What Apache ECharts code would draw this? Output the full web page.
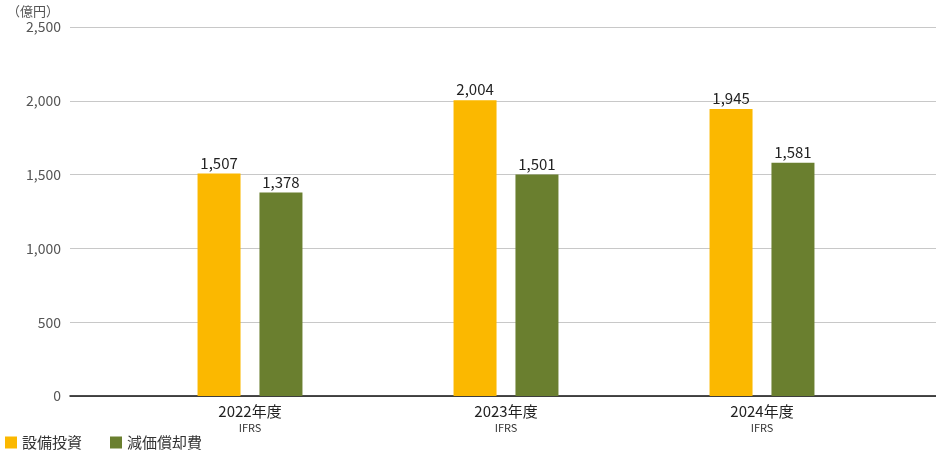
<!DOCTYPE html>
<html><head><meta charset="utf-8">
<script src="https://cdn.jsdelivr.net/npm/echarts@6/dist/echarts.min.js"></script>
<style>html,body{margin:0;padding:0;background:#fff}#c{width:936px;height:456px}</style>
</head><body><div id="c"></div>
<script>
const categories = ['2022年度', '2023年度', '2024年度'];
const subLabels = ['IFRS', 'IFRS', 'IFRS'];
const capex = [1507, 2004, 1945];
const depreciation = [1378, 1501, 1581];
const seriesNames = ['設備投資', '減価償却費'];
const yTicks = [0, 500, 1000, 1500, 2000, 2500];

const font = '"Noto Sans CJK JP", "Noto Sans", sans-serif';
const chart = echarts.init(document.getElementById('c'), null, {renderer: 'canvas'});
chart.setOption({
  animation: false,
  textStyle: {fontFamily: font},
  title: {text: '（億円）', left: 2, top: 0, textStyle: {fontSize: 13, fontWeight: 'normal', color: '#555', fontFamily: font}},
  legend: {
    left: 0, bottom: 1, itemWidth: 12, itemHeight: 12, itemGap: 28, icon: 'rect',
    textStyle: {fontSize: 15, color: '#333', fontFamily: font},
    data: seriesNames
  },
  grid: [
    {left: 70, right: 0, top: 27, bottom: 60},
    {left: 122, right: 46, top: 27, bottom: 60}
  ],
  xAxis: [
    {gridIndex: 0, type: 'category', data: categories, axisLabel: {show: false}, axisTick: {show: false},
     axisLine: {lineStyle: {color: '#111', width: 1.5}}},
    {gridIndex: 1, type: 'category', data: categories, axisTick: {show: false}, axisLine: {show: false},
     axisLabel: {
       margin: 6,
       formatter: (v, i) => '{a|' + v + '}\n{b|' + subLabels[i] + '}',
       rich: {
         a: {fontSize: 15, color: '#222', lineHeight: 18, fontFamily: font},
         b: {fontSize: 11, color: '#333', lineHeight: 15, fontFamily: font}
       }
     }}
  ],
  yAxis: [
    {gridIndex: 0, type: 'value', min: yTicks[0], max: yTicks[yTicks.length - 1], interval: 500,
     axisLine: {show: false}, axisTick: {show: false},
     axisLabel: {fontSize: 14, color: '#555', margin: 9, formatter: v => v.toLocaleString('en-US')},
     splitLine: {lineStyle: {color: '#c8c8c8', width: 1}}},
    {gridIndex: 1, type: 'value', min: yTicks[0], max: yTicks[yTicks.length - 1], interval: 500, show: false,
     splitLine: {show: false}}
  ],
  series: [
    {name: seriesNames[0], type: 'bar', xAxisIndex: 1, yAxisIndex: 1, data: capex, barWidth: 43, barGap: '44%',
     itemStyle: {color: '#FBB800'},
     label: {show: true, position: 'top', distance: 3, fontSize: 15, color: '#222', fontFamily: font,
             formatter: p => p.value.toLocaleString('en-US')}},
    {name: seriesNames[1], type: 'bar', xAxisIndex: 1, yAxisIndex: 1, data: depreciation, barWidth: 43, barGap: '44%',
     itemStyle: {color: '#6A7F2F'},
     label: {show: true, position: 'top', distance: 3, fontSize: 15, color: '#222', fontFamily: font,
             formatter: p => p.value.toLocaleString('en-US')}}
  ]
});
</script></body></html>
